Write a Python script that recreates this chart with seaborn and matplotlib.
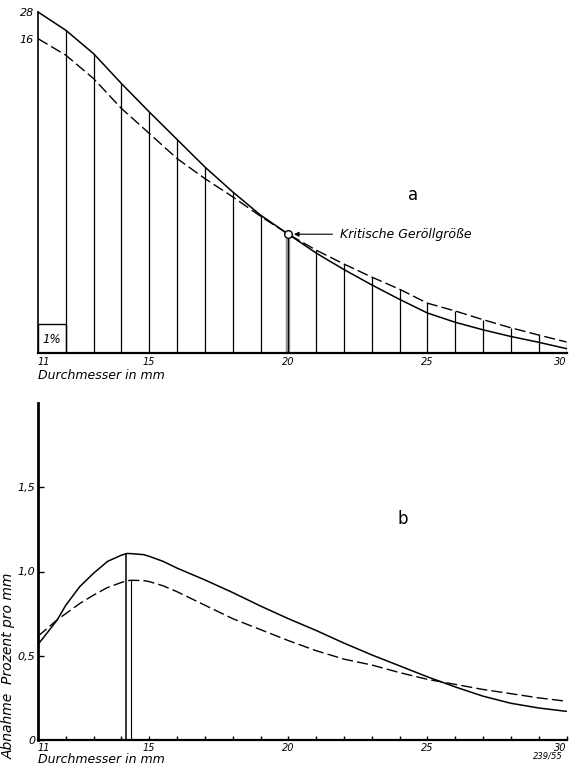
import numpy as np
import seaborn as sns
import matplotlib.pyplot as plt
from matplotlib.patches import Rectangle

# Teil a: Anteile je mm (Einheit = Hoehe des 1%-Kaestchens)
durchmesser_a = list(range(11, 31))
kurve_a_voll = [11.77, 11.14, 10.33, 9.30, 8.32, 7.37, 6.42, 5.56, 4.76, 4.10,
                3.45, 2.88, 2.35, 1.85, 1.38, 1.06, 0.80, 0.57, 0.37, 0.15]
kurve_a_gestr = [10.85, 10.28, 9.47, 8.44, 7.58, 6.71, 6.02, 5.39, 4.72, 4.10,
                 3.55, 3.07, 2.62, 2.20, 1.72, 1.45, 1.15, 0.87, 0.62, 0.38]
kritisch = 20
kritisch_wert = 4.10
a_ticks = [11, 15, 20, 25, 30]
a_yticks = [10.85, 11.77]
a_ylabels = ['16', '28']

# Teil b: Abnahme in Prozent pro mm
durchmesser_b = [11, 11.35, 11.7, 12, 12.5, 13, 13.5, 14, 14.2, 14.35, 14.8, 15,
                 15.5, 16, 17, 18, 19, 20, 21, 22, 23, 24, 25, 26, 27, 28, 29, 30]
abnahme_voll = [0.567, 0.64, 0.715, 0.80, 0.91, 0.99, 1.06, 1.097, 1.107, 1.106,
                1.10, 1.09, 1.06, 1.02, 0.95, 0.875, 0.795, 0.72, 0.65, 0.575,
                0.505, 0.44, 0.375, 0.315, 0.26, 0.218, 0.19, 0.17]
abnahme_gestr = [0.616, 0.665, 0.715, 0.75, 0.81, 0.86, 0.905, 0.935, 0.945, 0.948,
                 0.946, 0.94, 0.915, 0.88, 0.80, 0.72, 0.655, 0.59, 0.53, 0.48,
                 0.445, 0.40, 0.36, 0.33, 0.30, 0.275, 0.25, 0.23]
spitze_x = [14.18, 14.33]
spitze_y = [1.107, 0.948]
b_yticks = [0, 0.5, 1.0, 1.5]
b_ylabels = ['0', '0,5', '1,0', '1,5']

sns.set_style('ticks')
plt.rcParams['font.family'] = ['DejaVu Sans']
plt.rcParams['font.style'] = 'italic'
for k in ['text.color', 'axes.labelcolor', 'xtick.color', 'ytick.color', 'axes.edgecolor']:
    plt.rcParams[k] = 'black'

W, H = 570, 773
fig = plt.figure(figsize=(W / 100, H / 100), dpi=100)
strich = (0, (8, 3))

# ---------- a ----------
ax = fig.add_axes([38 / W, 1 - 353 / H, 528.5 / W, 341 / H])
sns.lineplot(x=durchmesser_a, y=kurve_a_voll, ax=ax, color='black', lw=1.1, clip_on=False)
sns.lineplot(x=durchmesser_a, y=kurve_a_gestr, ax=ax, color='black', lw=1.0,
             linestyle=strich, clip_on=False)
oben = np.maximum(kurve_a_voll, kurve_a_gestr)
ax.vlines(durchmesser_a[1:], 0, oben[1:], color='black', lw=0.9)
ax.vlines(kritisch, 0, kritisch_wert - 0.15, color='0.55', lw=3.2)
ax.vlines(kritisch, 0, kritisch_wert, color='black', lw=0.7)
ax.plot(kritisch, kritisch_wert, 'o', mfc='white', mec='black', ms=5.5, mew=1, zorder=5)
ax.add_patch(Rectangle((11, 0), 1, 1, fill=False, ec='black', lw=1))
ax.text(11.5, 0.45, '1%', ha='center', va='center', fontsize=8.5)
ax.annotate('Kritische Geröllgröße', xy=(kritisch + 0.2, kritisch_wert),
            xytext=(21.85, kritisch_wert), ha='left', va='center', fontsize=9,
            arrowprops=dict(arrowstyle='-|>', color='black', lw=0.8,
                            mutation_scale=7, shrinkA=3, shrinkB=0))
ax.text(24.5, 5.45, 'a', fontsize=12, ha='center', va='center', style='normal')
ax.set_xlim(11, 30)
ax.set_ylim(0, 11.77)
ax.set_xticks(a_ticks)
ax.set_xticklabels([str(t) for t in a_ticks], fontsize=7)
ax.get_xticklabels()[0].set_ha('left')
ax.get_xticklabels()[-1].set_ha('right')
ax.set_yticks(a_yticks)
ax.set_yticklabels(a_ylabels, fontsize=8)
ax.tick_params(length=0, pad=3)
ax.set_xlabel('Durchmesser in mm', loc='left', fontsize=9, labelpad=1)
for s in ['top', 'right']:
    ax.spines[s].set_visible(False)
ax.spines['bottom'].set_linewidth(1.6)
ax.spines['left'].set_linewidth(1.2)

# ---------- b ----------
bx = fig.add_axes([38 / W, 1 - 740 / H, 528.5 / W, 337 / H])
sns.lineplot(x=durchmesser_b, y=abnahme_voll, ax=bx, color='black', lw=1.1)
sns.lineplot(x=durchmesser_b, y=abnahme_gestr, ax=bx, color='black', lw=1.0,
             linestyle=strich)
bx.vlines(spitze_x[0], 0, spitze_y[0], color='black', lw=1.1)
bx.vlines(spitze_x[1], 0, spitze_y[1], color='black', lw=0.8)
bx.text(24.1, 1.31, 'b', fontsize=12, ha='center', va='center', style='normal')
bx.set_xlim(11, 30)
bx.set_ylim(0, 2.0)
bx.set_xticks(a_ticks)
bx.set_xticklabels([str(t) for t in a_ticks], fontsize=7)
bx.get_xticklabels()[0].set_ha('left')
bx.get_xticklabels()[-1].set_ha('right')
bx.set_xticks(durchmesser_a, minor=True)
bx.set_yticks(b_yticks)
bx.set_yticklabels(b_ylabels, fontsize=8)
bx.tick_params(axis='x', which='both', direction='in', length=3, width=1, pad=2)
bx.tick_params(axis='y', direction='in', length=4, width=1, pad=2)
bx.set_xlabel('Durchmesser in mm', loc='left', fontsize=9, labelpad=0)
bx.set_ylabel('Abnahme  Prozent pro mm', fontsize=10, va='center')
bx.yaxis.set_label_coords(-0.055, 0.22)
for s in ['top', 'right']:
    bx.spines[s].set_visible(False)
bx.spines['bottom'].set_linewidth(1.6)
bx.spines['left'].set_linewidth(2)
fig.text(548 / W, 1 - 756 / H, '239/55', fontsize=6, ha='center', va='center')

fig.savefig('out.png', dpi=100)
